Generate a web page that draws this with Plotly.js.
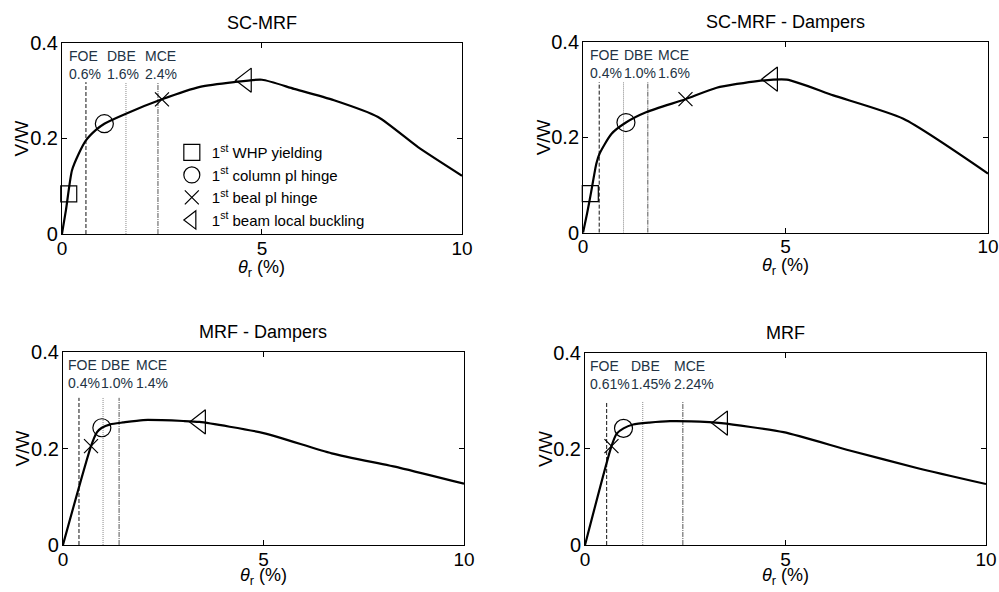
<!DOCTYPE html>
<html><head><meta charset="utf-8">
<script src="https://cdn.plot.ly/plotly-3.0.1.min.js"></script>
<style>html,body{margin:0;padding:0;background:#fff}#chart{width:999px;height:592px}</style>
</head><body><div id="chart"></div>
<script>
// ---------- data ----------
const panelTitles = ['SC-MRF', 'SC-MRF - Dampers', 'MRF - Dampers', 'MRF'];
const xTitle = '<i>θ</i><sub>r</sub> (%)';
const yTitle = 'V/W';

const scmrfX = [0, 0.1, 0.25, 0.42, 0.6, 0.85, 1.06, 1.6, 2.5, 3.45, 4.3, 5.0, 5.8, 6.8, 7.9, 8.9, 10];
const scmrfY = [0, 0.05, 0.133, 0.168, 0.196, 0.218, 0.231, 0.252, 0.282, 0.308, 0.318, 0.323, 0.304, 0.28, 0.245, 0.182, 0.122];

const scmrfDX = [0, 0.1, 0.2, 0.33, 0.41, 0.7, 1.06, 1.57, 2.53, 3.3, 4.3, 5.03, 6.18, 7.91, 10];
const scmrfDY = [0, 0.04, 0.085, 0.145, 0.166, 0.207, 0.231, 0.253, 0.28, 0.304, 0.318, 0.321, 0.288, 0.239, 0.124];

const mrfDX = [0, 0.7, 0.85, 0.97, 1.18, 1.5, 2.0, 3.0, 3.4, 5.0, 6.7, 8.4, 10];
const mrfDY = [0, 0.205, 0.234, 0.243, 0.25, 0.254, 0.259, 0.257, 0.255, 0.232, 0.19, 0.16, 0.127];

const mrfX = [0, 0.66, 0.79, 0.96, 1.2, 1.6, 2.12, 3.1, 3.4, 4.95, 6.6, 8.3, 10];
const mrfY = [0, 0.206, 0.232, 0.243, 0.251, 0.255, 0.258, 0.256, 0.254, 0.235, 0.197, 0.16, 0.127];

const curvesX = [scmrfX, scmrfDX, mrfDX, mrfX];
const curvesY = [scmrfY, scmrfDY, mrfDY, mrfY];

// event markers (one value per panel; null = not present)
const whpX = [0.17, 0.18, null, null];
const whpY = [0.084, 0.082, null, null];
const colX = [1.06, 1.06, 0.97, 0.96];
const colY = [0.231, 0.231, 0.243, 0.243];
const beamX = [2.5, 2.53, 0.7, 0.66];
const beamY = [0.282, 0.28, 0.205, 0.206];
const buckX = [4.6, 4.67, 3.42, 3.42];
const buckY = [0.322, 0.322, 0.255, 0.254];

const eventNames = ['1<sup>st</sup> WHP yielding', '1<sup>st</sup> column pl hinge', '1<sup>st</sup> beal pl hinge', '1<sup>st</sup> beam local buckling'];

// hazard levels
const levelNames = ['FOE', 'DBE', 'MCE'];
const levelLabels = [['0.6%', '1.6%', '2.4%'], ['0.4%', '1.0%', '1.6%'], ['0.4%', '1.0%', '1.4%'], ['0.61%', '1.45%', '2.24%']];
const levelX = [[0.6, 1.6, 2.4], [0.4, 1.0, 1.6], [0.4, 1.0, 1.4], [0.54, 1.44, 2.44]];
const levelTop = [0.318, 0.316, 0.305, 0.30];

const xTicks = [0, 5, 10];
const yTicks = [0, 0.2, 0.4];
const yTickText = ['0', '0.2', '0.4'];

// ---------- layout helpers ----------
const FONT = 'Liberation Sans, Arial, sans-serif';
const domains = [
  {x: [0.062, 0.4625], y: [0.6047, 0.9274]},
  {x: [0.5836, 0.989], y: [0.607, 0.9291]},
  {x: [0.063, 0.4645], y: [0.0794, 0.4054]},
  {x: [0.5856, 0.987], y: [0.0794, 0.4037]}
];
const xTitleShift = [-34, -34, -32, -32];
const labelPos = [[0.0125, 0.1075, 0.2025], [0.0123, 0.096, 0.18], [0.0075, 0.09, 0.177], [0.0075, 0.11, 0.217]];
const levelStyles = [
  {color: '#111', dash: '4px,2px'},
  {color: '#888', dash: '1px,1px'},
  {color: '#555', dash: '5px,1px,1px,1px'}
];
const markerDefs = [
  {x: whpX, y: whpY, symbol: 'square-open', size: 16},
  {x: colX, y: colY, symbol: 'circle-open', size: 18},
  {x: beamX, y: beamY, symbol: 'x-thin-open', size: 14},
  {x: buckX, y: buckY, symbol: 'triangle-left-open', size: 21}
];

const data = [];
const layout = {
  width: 999, height: 592,
  margin: {l: 0, r: 0, t: 0, b: 0},
  paper_bgcolor: '#fff', plot_bgcolor: '#fff',
  font: {family: FONT, color: '#000'},
  showlegend: true,
  legend: {
    x: 0.172, y: 0.77, xanchor: 'left', yanchor: 'top',
    bgcolor: 'rgba(0,0,0,0)', borderwidth: 0,
    font: {family: FONT, size: 15, color: '#000'},
    itemwidth: 30, tracegroupgap: 0
  },
  annotations: []
};

for (let i = 0; i < 4; i++) {
  const sfx = i === 0 ? '' : String(i + 1);
  const xa = 'x' + sfx, ya = 'y' + sfx;

  // hazard level lines
  for (let k = 0; k < 3; k++) {
    data.push({
      type: 'scatter', mode: 'lines', xaxis: xa, yaxis: ya,
      x: [levelX[i][k], levelX[i][k]], y: [0, levelTop[i]],
      line: {color: levelStyles[k].color, width: 1, dash: levelStyles[k].dash},
      showlegend: false, hoverinfo: 'skip'
    });
    layout.annotations.push({
      xref: xa + ' domain', yref: ya + ' domain',
      x: labelPos[i][k], y: 1, xanchor: 'left', yanchor: 'top', yshift: -3,
      align: 'left', showarrow: false,
      text: levelNames[k] + '<br>' + levelLabels[i][k],
      font: {family: FONT, size: 14, color: '#223344'}
    });
  }

  // capacity curve
  data.push({
    type: 'scatter', mode: 'lines', xaxis: xa, yaxis: ya,
    x: curvesX[i], y: curvesY[i],
    line: {color: '#000', width: 2.2, shape: 'spline', smoothing: 0.6}, showlegend: false
  });

  // event markers
  markerDefs.forEach((m, j) => {
    if (m.x[i] === null) return;
    data.push({
      type: 'scatter', mode: 'markers', xaxis: xa, yaxis: ya,
      x: [m.x[i]], y: [m.y[i]], name: eventNames[j],
      marker: {symbol: m.symbol, size: m.size, color: '#000', line: {color: '#000', width: 1.2}},
      showlegend: i === 0, cliponaxis: false
    });
  });

  layout['xaxis' + sfx] = {
    domain: domains[i].x, anchor: ya, range: [0, 10],
    tickmode: 'array', tickvals: xTicks, ticktext: xTicks.map(String),
    ticks: 'inside', ticklen: 5, tickcolor: '#000', tickwidth: 1,
    showline: true, linecolor: '#000', linewidth: 1, mirror: 'ticks',
    showgrid: false, zeroline: false, ticklabeloverflow: 'allow', ticklabelstandoff: -3,
    tickfont: {family: FONT, size: 19, color: '#000'}
  };
  layout['yaxis' + sfx] = {
    domain: domains[i].y, anchor: xa, range: [0, 0.4],
    tickmode: 'array', tickvals: yTicks, ticktext: yTickText,
    ticks: 'inside', ticklen: 5, tickcolor: '#000', tickwidth: 1,
    showline: true, linecolor: '#000', linewidth: 1, mirror: 'ticks',
    showgrid: false, zeroline: false, ticklabeloverflow: 'allow', ticklabelstandoff: -1,
    tickfont: {family: FONT, size: 20, color: '#000'}
  };

  // panel title
  layout.annotations.push({
    xref: xa + ' domain', yref: ya + ' domain', x: 0.5, y: 1,
    xanchor: 'center', yanchor: 'bottom', yshift: 8, showarrow: false,
    text: panelTitles[i], font: {family: FONT, size: 18, color: '#000'}
  });
  // x axis title
  layout.annotations.push({
    xref: xa + ' domain', yref: ya + ' domain', x: 0.5, y: 0,
    xanchor: 'center', yanchor: 'middle', yshift: xTitleShift[i], showarrow: false,
    text: xTitle, font: {family: FONT, size: 18, color: '#000'}
  });
  // y axis title
  layout.annotations.push({
    xref: xa + ' domain', yref: ya + ' domain', x: 0, y: 0.5,
    xanchor: 'center', yanchor: 'middle', xshift: -40, textangle: -90, showarrow: false,
    text: yTitle, font: {family: FONT, size: 19, color: '#000'}
  });
}

Plotly.newPlot('chart', data, layout, {staticPlot: true, displayModeBar: false});
</script>
</body></html>
